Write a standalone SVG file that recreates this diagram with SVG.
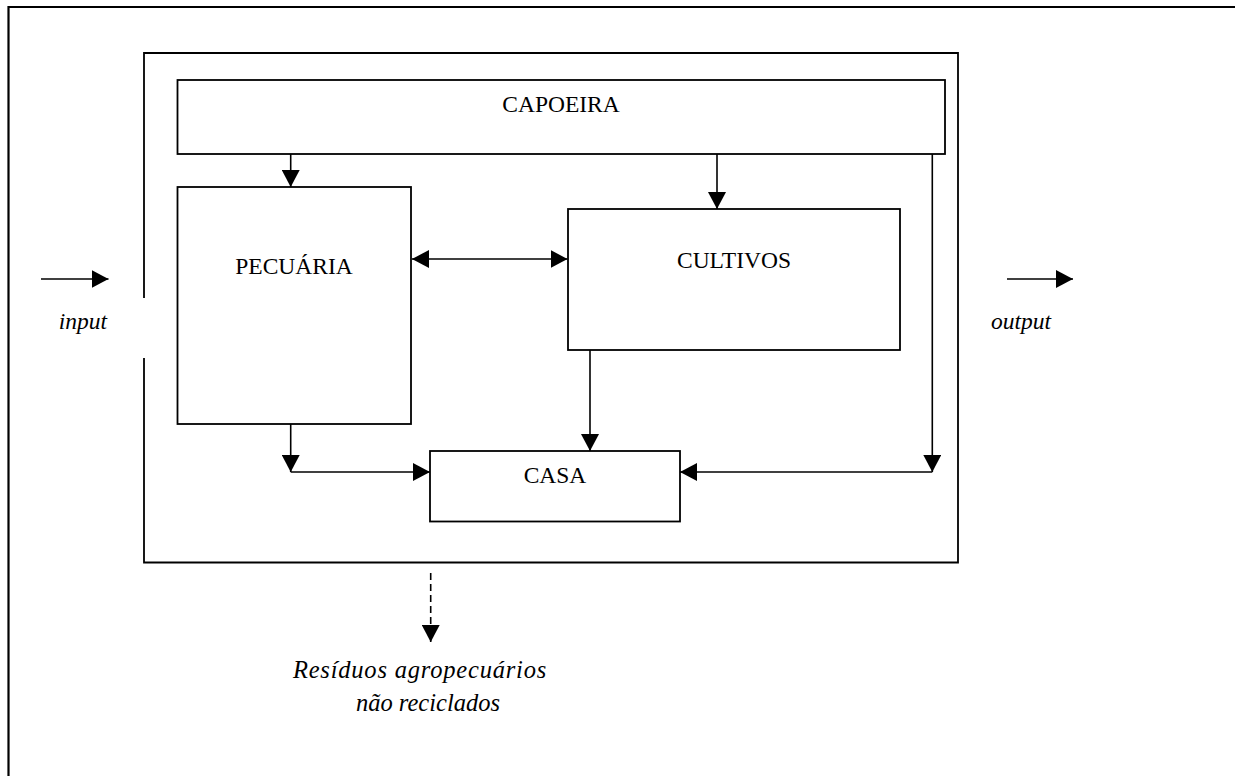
<svg xmlns="http://www.w3.org/2000/svg" width="1235" height="776" viewBox="0 0 1235 776">
<style>
.box{fill:none;stroke:#000;stroke-width:1.8}
.frame{fill:none;stroke:#000;stroke-width:2.2}
.c{fill:none;stroke:#000;stroke-width:1.6}
.lbl{font-family:"Liberation Serif","Times New Roman",serif;font-size:23.5px;fill:#000;text-anchor:middle}
.it{font-family:"Liberation Serif","Times New Roman",serif;font-size:23.5px;font-style:italic;fill:#000;text-anchor:middle}
.res{font-size:24.5px}
</style>
<defs>
<marker id="ah" viewBox="0 0 17 18" refX="17" refY="9" markerWidth="17" markerHeight="18" markerUnits="userSpaceOnUse" orient="auto-start-reverse">
<path d="M0,0 L17,9 L0,18 z" fill="#000"/>
</marker>
</defs>
<rect width="1235" height="776" fill="#fff"/>
<path class="frame" d="M8.5,778 V7 H1237"/>
<g id="system">
<path class="box" d="M144,298 V53 H958 V562.5 H144 V358"/>
</g>
<g id="capoeira">
<rect class="box" x="177.5" y="80" width="767.5" height="74"/>
<text class="lbl" x="561" y="112">CAPOEIRA</text>
</g>
<g id="pecuaria">
<rect class="box" x="177.5" y="187" width="233.5" height="237"/>
<text class="lbl" x="294" y="274">PECUÁRIA</text>
</g>
<g id="cultivos">
<rect class="box" x="568" y="209" width="332" height="141"/>
<text class="lbl" x="734" y="268">CULTIVOS</text>
</g>
<g id="casa">
<rect class="box" x="430" y="451" width="250" height="70.5"/>
<text class="lbl" x="555" y="483">CASA</text>
</g>
<g id="input">
<text class="it" x="83" y="329">input</text>
</g>
<g id="output">
<text class="it" x="1021" y="329">output</text>
</g>
<g id="residuos">
<text class="it res" x="420" y="678" letter-spacing="0.8">Resíduos agropecuários</text>
<text class="it res" x="428" y="711">não reciclados</text>
</g>
<g id="connectors">
<line class="c" x1="41" y1="279" x2="108.5" y2="279" marker-end="url(#ah)"/>
<line class="c" x1="1007" y1="279" x2="1073" y2="279" marker-end="url(#ah)"/>
<line class="c" x1="290.7" y1="154" x2="290.7" y2="187" marker-end="url(#ah)"/>
<line class="c" x1="717" y1="154" x2="717" y2="209" marker-end="url(#ah)"/>
<line class="c" x1="412" y1="259" x2="567.5" y2="259" marker-start="url(#ah)" marker-end="url(#ah)"/>
<line class="c" x1="590" y1="350" x2="590" y2="451" marker-end="url(#ah)"/>
<line class="c" x1="290.7" y1="424" x2="290.7" y2="472" marker-end="url(#ah)"/>
<line class="c" x1="290.7" y1="472" x2="430" y2="472" marker-end="url(#ah)"/>
<line class="c" x1="932.3" y1="154" x2="932.3" y2="472" marker-end="url(#ah)"/>
<line class="c" x1="932.3" y1="472" x2="680" y2="472" marker-end="url(#ah)"/>
<line class="c" x1="430.7" y1="573" x2="430.7" y2="642" stroke-dasharray="7,4" marker-end="url(#ah)"/>
</g>
</svg>
